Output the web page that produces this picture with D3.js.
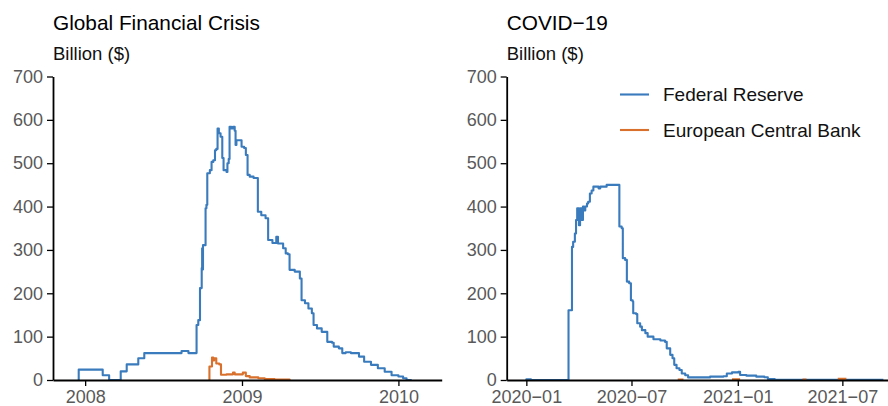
<!DOCTYPE html>
<html><head><meta charset="utf-8">
<script src="https://cdn.jsdelivr.net/npm/d3@7"></script>
<style>
body{margin:0;background:#fff}
text{font-family:"Liberation Sans",Arial,Helvetica,sans-serif}
</style>
</head><body>
<svg id="chart" width="888" height="406"></svg>
<script>
// ---------- DATA ----------
const panelTitles = ["Global Financial Crisis", "COVID\u221219"];
const yAxisLabel = "Billion ($)";
const seriesNames = ["Federal Reserve", "European Central Bank"];
const yTicks = [0, 100, 200, 300, 400, 500, 600, 700];
const gfcTickDates = ["2008-01-01", "2009-01-01", "2010-01-01"];
const gfcTickLabels = ["2008", "2009", "2010"];
const covidTickDates = ["2020-01-01", "2020-07-01", "2021-01-01", "2021-07-01"];
const covidTickLabels = ["2020\u221201", "2020\u221207", "2021\u221201", "2021\u221207"];
const gfcDomain = ["2007-10-18", "2010-04-12"];
const covidDomain = ["2019-11-28", "2021-09-18"];

// Global Financial Crisis — Federal Reserve
const gfcFedDates = ["2007-12-16","2007-12-17","2008-02-11","2008-02-26","2008-03-24","2008-04-07","2008-05-04","2008-05-18","2008-08-13","2008-08-29",
"2008-09-17","2008-09-21","2008-09-25","2008-09-29","2008-09-30","2008-10-01","2008-10-02","2008-10-08","2008-10-10","2008-10-12",
"2008-10-18","2008-10-22","2008-10-26","2008-10-30","2008-11-02","2008-11-05","2008-11-08","2008-11-12","2008-11-16","2008-11-19",
"2008-11-26","2008-11-28","2008-12-01","2008-12-03","2008-12-07","2008-12-11","2008-12-15","2008-12-17","2008-12-19","2008-12-27",
"2008-12-31","2009-01-06","2009-01-10","2009-01-14","2009-01-19","2009-01-28","2009-02-07","2009-02-15","2009-02-25","2009-03-03",
"2009-03-13","2009-03-22","2009-03-26","2009-04-07","2009-04-13","2009-04-18","2009-04-22","2009-05-04","2009-05-16","2009-05-20",
"2009-05-28","2009-06-05","2009-06-13","2009-06-17","2009-06-25","2009-07-06","2009-07-19","2009-07-30","2009-08-03","2009-08-15",
"2009-08-23","2009-08-31","2009-09-12","2009-10-01","2009-10-13","2009-10-29","2009-11-14","2009-11-30","2009-12-16","2010-01-01",
"2010-01-12","2010-01-20","2010-02-01"];
const gfcFedValues = [0,24,11,0,20,36,50,62,67,62,
127,138,212,258,304,255,311,396,404,477,
484,503,507,530,533,580,569,561,512,484,
480,500,510,584,580,584,575,542,553,553,
538,535,519,473,469,466,388,380,373,323,
316,330,315,304,292,290,254,250,234,184,
177,165,154,127,119,111,88,86,77,73,
62,64,62,54,42,35,27,19,11,8,
4,0,0];

// Global Financial Crisis — European Central Bank
const gfcEcbDates = ["2008-10-16","2008-10-17","2008-10-23","2008-10-26","2008-10-28","2008-11-02","2008-11-09","2008-11-13","2008-11-26","2008-12-11",
"2008-12-15","2009-01-03","2009-01-10","2009-01-19","2009-02-08","2009-02-23","2009-03-18","2009-04-22"];
const gfcEcbValues = [0,31,52,45,50,38,36,12,13,17,
13,17,9,6,4,2,1,0];

// COVID-19 — Federal Reserve
const covidFedDates = ["2019-12-31","2020-01-01","2020-01-09","2020-03-14","2020-03-20","2020-03-22","2020-03-25","2020-03-27","2020-03-29","2020-04-01",
"2020-04-03","2020-04-06","2020-04-08","2020-04-10","2020-04-12","2020-04-15","2020-04-17","2020-04-20","2020-04-23","2020-04-26",
"2020-05-02","2020-05-05","2020-05-08","2020-05-19","2020-06-10","2020-06-14","2020-06-16","2020-06-20","2020-06-23","2020-06-27",
"2020-06-30","2020-07-03","2020-07-04","2020-07-09","2020-07-11","2020-07-16","2020-07-19","2020-07-25","2020-07-29","2020-08-08",
"2020-08-20","2020-08-28","2020-08-31","2020-09-06","2020-09-10","2020-09-13","2020-09-17","2020-09-22","2020-09-26","2020-10-02",
"2020-10-07","2020-10-28","2020-11-14","2020-12-07","2020-12-13","2020-12-22","2021-01-02","2021-01-05","2021-01-16","2021-02-02",
"2021-02-16","2021-02-22","2021-03-06","2021-09-10"];
const covidFedValues = [0,1.5,0,161,307,319,338,369,396,357,
396,369,400,391,400,407,411,430,437,446,
446,442,446,450,354,350,281,277,227,223,
184,181,154,152,131,123,115,108,100,94,
91,88,73,58,50,35,27,23,15,11,
6,6,7.7,8.5,15,17.7,19,11.5,10,7.7,
6.5,2.3,0.5,0.5];

// COVID-19 — European Central Bank (null = no operation outstanding)
const covidEcbDates = ["2020-09-19","2020-09-29","2020-09-30","2020-12-22","2021-01-05","2021-01-06","2021-04-23","2021-04-30","2021-05-01","2021-06-23","2021-07-08"];
const covidEcbValues = [1,1,null,1.5,1.5,null,1,1,null,2.5,2.5];

// ---------- DRAW ----------
const parse = d3.utcParse("%Y-%m-%d");
const zip = (ds, vs) => ds.map((d, i) => ({date: parse(d), value: vs[i]}));

const svg = d3.select("#chart");
const blue = "#3a7bbd", orange = "#d9712c";
const yTop = 76.5, yBottom = 380;

const panels = [
  {title: panelTitles[0], domain: gfcDomain, range: [53, 441.7], tickDates: gfcTickDates, tickLabels: gfcTickLabels,
   series: [{data: zip(gfcFedDates, gfcFedValues), color: blue}, {data: zip(gfcEcbDates, gfcEcbValues), color: orange}]},
  {title: panelTitles[1], domain: covidDomain, range: [506.7, 888], tickDates: covidTickDates, tickLabels: covidTickLabels,
   series: [{data: zip(covidFedDates, covidFedValues), color: blue}, {data: zip(covidEcbDates, covidEcbValues), color: orange}],
   legend: true}
];

const y = d3.scaleLinear().domain([0, 700]).range([yBottom, yTop]);

panels.forEach(p => {
  const x = d3.scaleUtc().domain(p.domain.map(parse)).range(p.range);
  const g = svg.append("g");
  const x0 = p.range[0];

  g.append("text").attr("x", x0).attr("y", 30).attr("font-size", 20.8).attr("fill", "#000").text(p.title);
  g.append("text").attr("x", x0).attr("y", 60).attr("font-size", 18.5).attr("fill", "#111").text(yAxisLabel);

  p.series.forEach(s => {
    const line = d3.line()
      .defined(d => d.value !== null)
      .x(d => x(d.date)).y(d => y(d.value))
      .curve(d3.curveStepAfter);
    g.append("path").datum(s.data)
      .attr("fill", "none").attr("stroke", s.color).attr("stroke-width", 2.1)
      .attr("stroke-linejoin", "round")
      .attr("d", line);
  });

  const yAxis = g.append("g").attr("transform", `translate(${x0},0)`)
    .call(d3.axisLeft(y).tickValues(yTicks).tickSize(6).tickSizeOuter(0).tickPadding(4));
  const xAxis = g.append("g").attr("transform", `translate(0,${yBottom})`)
    .call(d3.axisBottom(x).tickValues(p.tickDates.map(parse)).tickSize(6).tickSizeOuter(0).tickPadding(4)
      .tickFormat((d, i) => p.tickLabels[i]));
  [yAxis, xAxis].forEach(a => {
    a.select(".domain").attr("stroke", "#000").attr("stroke-width", 1.8);
    a.selectAll(".tick line").attr("stroke", "#000").attr("stroke-width", 1.3);
    a.selectAll(".tick text").attr("fill", "#595959").attr("font-size", 18)
      .attr("font-family", "Liberation Sans, Arial, sans-serif");
  });

  if (p.legend) {
    const items = [{name: seriesNames[0], color: blue, y: 94.5}, {name: seriesNames[1], color: orange, y: 130}];
    items.forEach(it => {
      g.append("line").attr("x1", 620).attr("x2", 649).attr("y1", it.y).attr("y2", it.y)
        .attr("stroke", it.color).attr("stroke-width", 2.1);
      g.append("text").attr("x", 663).attr("y", it.y).attr("dy", "0.36em")
        .attr("font-size", 19).attr("fill", "#111").text(it.name);
    });
  }
});
</script>
</body></html>
